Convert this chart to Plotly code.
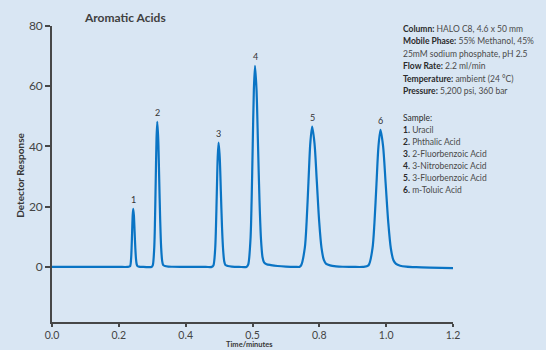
import plotly.graph_objects as go

# Chromatogram trace (time in minutes, detector response)
time_min = [
    0.000, 0.100, 0.200, 0.226,
    0.2334, 0.2366, 0.2382, 0.2398, 0.2414, 0.2430, 0.2451, 0.2472, 0.2493, 0.2514, 0.2535, 0.2556, 0.260,
    0.270, 0.298,
    0.3015, 0.3060, 0.30825, 0.3105, 0.31275, 0.3150, 0.3179, 0.3208, 0.3237, 0.3266, 0.3295, 0.3324, 0.338, 0.348,
    0.360, 0.400, 0.460, 0.478,
    0.4829, 0.4881, 0.4907, 0.4933, 0.4959, 0.4985, 0.5019, 0.5053, 0.5087, 0.5121, 0.5155, 0.5189, 0.526, 0.538,
    0.560, 0.582,
    0.5871, 0.5939, 0.5973, 0.6007, 0.6041, 0.6075, 0.6120, 0.6165, 0.6210, 0.6255, 0.6300, 0.6345, 0.642, 0.655,
    0.675, 0.700, 0.730, 0.740,
    0.7455, 0.7565, 0.7620, 0.7675, 0.7730, 0.7785, 0.7855, 0.7925, 0.7995, 0.8065, 0.8135, 0.8205, 0.832, 0.850,
    0.870, 0.900, 0.930,
    0.947, 0.959, 0.965, 0.971, 0.977, 0.983, 0.99075, 0.9985, 1.00625, 1.014, 1.02175, 1.0295, 1.042, 1.060,
    1.090, 1.130, 1.200,
]
response = [
    0.0, 0.0, 0.0, 0.0,
    0.2, 2.6, 6.3, 11.7, 17.0, 19.3, 17.0, 11.7, 6.3, 2.6, 0.85, 0.3, 0.1,
    0.0, 0.0,
    0.5, 6.5, 15.7, 29.3, 42.5, 48.2, 42.5, 29.3, 15.7, 6.5, 2.1, 0.7, 0.3, 0.1,
    0.05, 0.0, 0.0, 0.0,
    0.45, 5.6, 13.4, 25.1, 36.4, 41.3, 36.4, 25.1, 13.4, 5.6, 1.8, 0.6, 0.3, 0.1,
    0.0, 0.0,
    0.75, 9.0, 21.7, 40.5, 58.9, 66.8, 58.9, 40.5, 21.7, 9.0, 3.2, 1.5, 0.9, 0.6,
    0.3, 0.1, 0.0, 0.0,
    0.5, 6.3, 15.1, 28.3, 41.1, 46.6, 41.1, 28.3, 15.1, 6.3, 2.3, 1.0, 0.5, 0.2,
    0.05, 0.0, 0.0,
    0.5, 6.1, 14.8, 27.6, 40.1, 45.5, 40.1, 27.6, 14.8, 6.1, 2.2, 1.0, 0.4, 0.1,
    -0.1, -0.25, -0.4,
]

# Peak labels
peak_labels = ["1", "2", "3", "4", "5", "6"]
peak_times = [0.2430, 0.3150, 0.4985, 0.6075, 0.7785, 0.9830]
peak_heights = [19.3, 48.2, 41.3, 66.8, 46.6, 45.5]

x_tick_vals = [0.0, 0.2, 0.4, 0.6, 0.8, 1.0, 1.2]
x_tick_text = ["0.0", "0.2", "0.4", "0.5", "0.8", "1.0", "1.2"]
y_tick_vals = [0, 20, 40, 60, 80]

conditions = [
    ("Column:", " HALO C8, 4.6 x 50 mm"),
    ("Mobile Phase:", " 55% Methanol, 45%"),
    ("", "25mM sodium phosphate, pH 2.5"),
    ("Flow Rate:", " 2.2 ml/min"),
    ("Temperature:", " ambient (24 °C)"),
    ("Pressure:", " 5,200 psi, 360 bar"),
]
sample_header = "Sample:"
sample_items = [
    ("1.", " Uracil"),
    ("2.", " Phthalic Acid"),
    ("3.", " 2-Fluorbenzoic Acid"),
    ("4.", " 3-Nitrobenzoic Acid"),
    ("5.", " 3-Fluorbenzoic Acid"),
    ("6.", " m-Toluic Acid"),
]

FONT = "Lato"
AXIS_COLOR = "#474747"
BG = "#d9e6f3"

fig = go.Figure()
fig.add_trace(go.Scatter(
    x=time_min, y=response, mode="lines",
    line=dict(color="#0a74c4", width=2.2, shape="spline", smoothing=0.8),
    hoverinfo="skip", showlegend=False,
))

annotations = []
for lab, t, h in zip(peak_labels, peak_times, peak_heights):
    annotations.append(dict(
        x=t, y=h, xref="x", yref="y", text=lab, showarrow=False,
        yanchor="bottom", yshift=2,
        font=dict(family=FONT, size=9, color="#333333"),
    ))

# Right-side text block (paper coordinates from pixel positions)
W, H = 546, 350
plot_l, plot_r, plot_t, plot_b = 52, 453, 26.4, 322


def px_to_paper(px, py):
    return (px - plot_l) / (plot_r - plot_l), (plot_b - py) / (plot_b - plot_t)


line_ys = [29, 41.5, 54, 66.5, 79, 91.5]
for (b, r), py in zip(conditions, line_ys):
    xp, yp = px_to_paper(401, py)
    txt = (f"<b>{b}</b>" if b else "") + f"<span style='color:#4a4a4a'>{r}</span>"
    annotations.append(dict(
        x=xp, y=yp, xref="paper", yref="paper", text=txt, showarrow=False,
        xanchor="left", yanchor="middle",
        font=dict(family=FONT, size=8.5, color="#2b2b2b"),
    ))

xp, yp = px_to_paper(401, 118)
annotations.append(dict(
    x=xp, y=yp, xref="paper", yref="paper", text=f"<span style='color:#2b2b2b'>{sample_header}</span>",
    showarrow=False, xanchor="left", yanchor="middle",
    font=dict(family=FONT, size=8.5, color="#2b2b2b"),
))
for i, (b, r) in enumerate(sample_items):
    xp, yp = px_to_paper(401, 130 + 12 * i)
    annotations.append(dict(
        x=xp, y=yp, xref="paper", yref="paper",
        text=f"<b>{b}</b><span style='color:#4a4a4a'>{r}</span>",
        showarrow=False, xanchor="left", yanchor="middle",
        font=dict(family=FONT, size=8.5, color="#2b2b2b"),
    ))

# Title
xp, yp = px_to_paper(124.5, 18.3)
annotations.append(dict(
    x=xp, y=yp, xref="paper", yref="paper", text="<b>Aromatic Acids</b>",
    showarrow=False, xanchor="center", yanchor="middle",
    font=dict(family=FONT, size=12, color="#404040"),
))
# Y title
xp, yp = px_to_paper(20, 176)
annotations.append(dict(
    x=xp, y=yp, xref="paper", yref="paper", text="<b>Detector Response</b>",
    showarrow=False, xanchor="center", yanchor="middle", textangle=-90,
    font=dict(family=FONT, size=10, color="#383838"),
))
# X title, just below the tick labels at the bottom edge
xp, yp = px_to_paper(249, 344.5)
annotations.append(dict(
    x=xp, y=yp, xref="paper", yref="paper", text="<b>Time/minutes</b>",
    showarrow=False, xanchor="center", yanchor="middle",
    font=dict(family=FONT, size=7.5, color="#383838"),
))

fig.update_layout(
    width=W, height=H,
    margin=dict(l=plot_l, r=W - plot_r, t=plot_t, b=H - plot_b, autoexpand=False),
    paper_bgcolor=BG,
    plot_bgcolor="rgba(0,0,0,0)",
    showlegend=False,
    annotations=annotations,
    xaxis=dict(
        range=[0, 1.2], tickvals=x_tick_vals, ticktext=x_tick_text,
        showgrid=False, zeroline=False, showline=True, linecolor=AXIS_COLOR, linewidth=1.6,
        ticks="outside", ticklen=3, tickwidth=1.6, tickcolor=AXIS_COLOR,
        tickfont=dict(family=FONT, size=10.5, color="#444444"),
        ticklabelstandoff=0,
    ),
    yaxis=dict(
        range=[-18.3, 80], tickvals=y_tick_vals,
        showgrid=False, zeroline=False, showline=True, linecolor=AXIS_COLOR, linewidth=1.6,
        ticks="outside", ticklen=5, tickwidth=1.6, tickcolor=AXIS_COLOR,
        tickfont=dict(family=FONT, size=12, color="#444444"),
    ),
)

fig.write_html(
    "out.html",
    config={"displayModeBar": False},
    post_script=(
        "document.body.style.margin='0';document.body.style.padding='0';"
        f"document.body.style.background='{BG}';document.body.style.overflow='hidden';"
    ),
)
